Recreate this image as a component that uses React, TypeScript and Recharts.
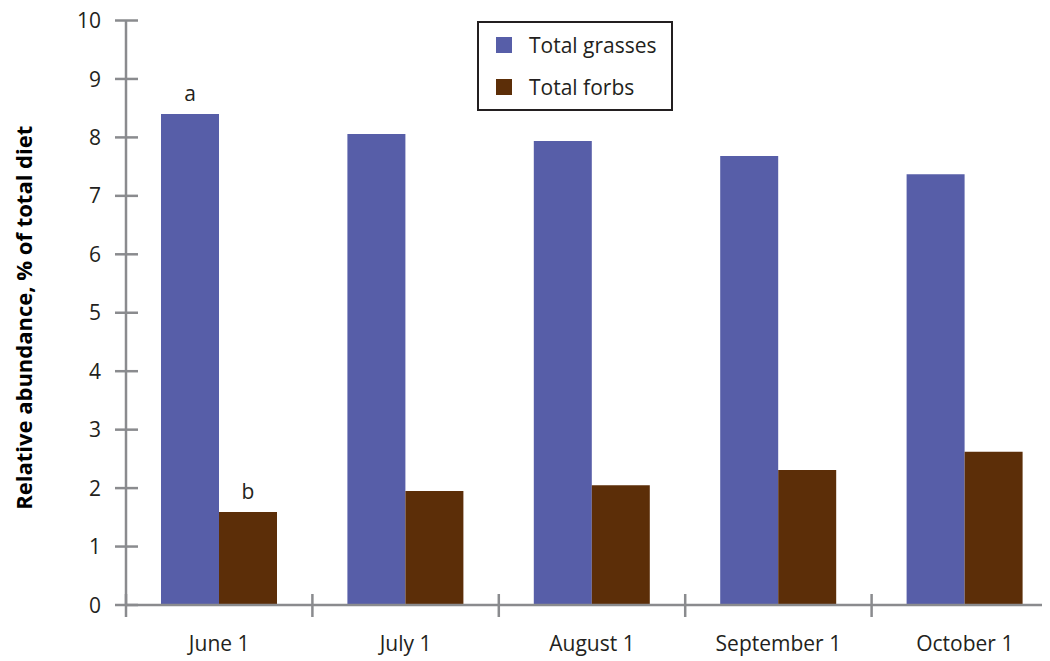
import React from 'react';
import { Bar, BarChart, XAxis, YAxis, Legend, LabelList, Label } from 'recharts';

const months = ['June 1', 'July 1', 'August 1', 'September 1', 'October 1'];
const grasses = [8.4, 8.06, 7.94, 7.68, 7.37];
const forbs = [1.59, 1.95, 2.05, 2.31, 2.62];
const grassNotes = ['a', '', '', '', ''];
const forbNotes = ['b', '', '', '', ''];
const yTicks = [0, 1, 2, 3, 4, 5, 6, 7, 8, 9, 10];

const GRASS = '#575ea8';
const FORB = '#5c2e08';
const AXIS = '#8a8b8e';
const INK = '#231f20';
const FONT = '"Open Sans", "Noto Sans", sans-serif';

const data = months.map((m, i) => ({
  month: m,
  grasses: grasses[i],
  forbs: forbs[i],
  gNote: grassNotes[i],
  fNote: forbNotes[i],
}));

const YTick = ({ x, y, payload }: any) => (
  <g>
    <line x1={x - 11} x2={x + 12} y1={y} y2={y} stroke={AXIS} strokeWidth={2.5} />
    <text x={x - 25} y={y} dy="0.36em" textAnchor="end" fontSize={21} fill={INK} fontFamily={FONT}>
      {payload.value}
    </text>
  </g>
);

const XTick = ({ x, y, payload, index }: any) => {
  const half = payload.offset || 93;
  return (
    <g>
      <line x1={x - half} x2={x - half} y1={y - 11} y2={y + 12} stroke={AXIS} strokeWidth={2.5} />
      {index === months.length - 1 && (
        <line x1={x + half} x2={x + half} y1={y - 11} y2={y + 12} stroke={AXIS} strokeWidth={2.5} />
      )}
      <text x={x} y={y + 46} textAnchor="middle" fontSize={21} fill={INK} fontFamily={FONT}>
        {payload.value}
      </text>
    </g>
  );
};

const LegendBox = () => (
  <div
    style={{
      width: 196,
      height: 90,
      boxSizing: 'border-box',
      border: `2px solid ${INK}`,
      background: '#fff',
      paddingTop: 1,
      fontFamily: FONT,
      fontSize: 21,
      color: INK,
    }}
  >
    {[
      { name: 'Total grasses', color: GRASS },
      { name: 'Total forbs', color: FORB },
    ].map((it) => (
      <div key={it.name} style={{ display: 'flex', alignItems: 'center', height: 42 }}>
        <span style={{ width: 16, height: 16, background: it.color, marginLeft: 17, marginRight: 17 }} />
        <span>{it.name}</span>
      </div>
    ))}
  </div>
);

const YTitle = ({ viewBox }: any) => {
  const cx = 32;
  const cy = viewBox.y + viewBox.height / 2 + 5;
  return (
    <text
      x={cx}
      y={cy}
      transform={`rotate(-90 ${cx} ${cy})`}
      textAnchor="middle"
      fontSize={22}
      fontWeight="bold"
      fill="#000"
      fontFamily={FONT}
    >
      Relative abundance, % of total diet
    </text>
  );
};

export default function App() {
  return (
    <div style={{ margin: '-8px 0 0 -8px', width: 1058, height: 661 }}>
      <BarChart
        width={1058}
        height={661}
        data={data}
        margin={{ top: 20.5, right: 0, bottom: 0, left: 0 }}
        barSize={58}
        barGap={0}
      >
        <XAxis
          dataKey="month"
          height={56}
          tickSize={0}
          tickMargin={0}
          tick={<XTick />}
          interval={0}
          axisLine={{ stroke: AXIS, strokeWidth: 2.5 }}
          tickLine={false}
        />
        <YAxis
          width={126}
          domain={[0, 10]}
          ticks={yTicks}
          interval={0}
          tickSize={0}
          tickMargin={0}
          tick={<YTick />}
          axisLine={{ stroke: AXIS, strokeWidth: 2.5 }}
          tickLine={false}
        >
          <Label content={<YTitle />} />
        </YAxis>
        <Legend
          verticalAlign="middle"
          content={<LegendBox />}
          wrapperStyle={{ position: 'absolute', left: 477, top: 21, width: 196, height: 90 }}
        />
        <Bar dataKey="grasses" name="Total grasses" fill={GRASS} isAnimationActive={false}>
          <LabelList dataKey="gNote" position="top" offset={13} fontSize={21} fill={INK} fontFamily={FONT} />
        </Bar>
        <Bar dataKey="forbs" name="Total forbs" fill={FORB} isAnimationActive={false}>
          <LabelList dataKey="fNote" position="top" offset={13} fontSize={21} fill={INK} fontFamily={FONT} />
        </Bar>
      </BarChart>
    </div>
  );
}
